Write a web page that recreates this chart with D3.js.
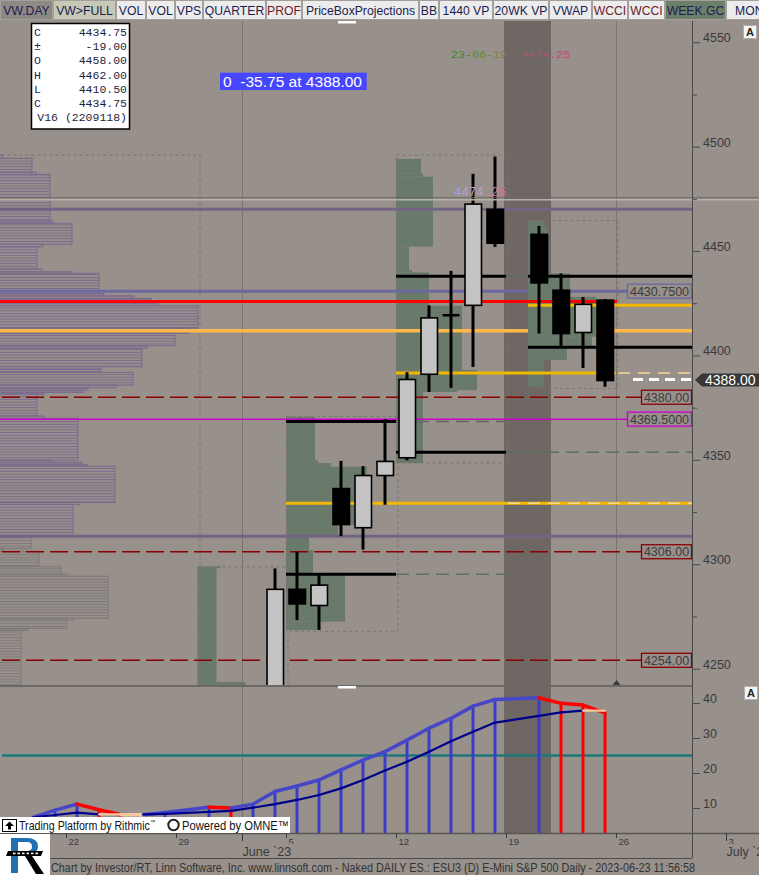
<!DOCTYPE html>
<html><head><meta charset="utf-8">
<script src="https://cdn.jsdelivr.net/npm/d3@7/dist/d3.min.js"></script>
<style>
html,body{margin:0;padding:0;background:#97908b;overflow:hidden}
svg{display:block;font-family:"Liberation Sans",Arial,sans-serif}
</style></head><body>
<svg id="chart" width="759" height="875"></svg>
<script>
// ================= DATA =================
const toolbarButtons = ["VW.DAY","VW>FULL","VOL","VOL","VPS","QUARTER","PROF","PriceBoxProjections","BB","1440 VP","20WK VP","VWAP","WCCI","WCCI","WEEK.GC","MONT"];

const candleDates = ["2023-06-02","2023-06-05","2023-06-06","2023-06-07","2023-06-08","2023-06-09","2023-06-12","2023-06-13","2023-06-14","2023-06-15","2023-06-16","2023-06-20","2023-06-21","2023-06-22","2023-06-23"];
const opens  = [4226,4288,4280.25,4336.25,4317.5,4342.5,4351,4391,4419.25,4424,4470,4458,4431.25,4411,4426.5];
const highs  = [4298,4306,4295,4349.5,4347,4369.5,4392,4424,4440.5,4487,4495.25,4462,4439.25,4428,4427];
const lows   = [4218,4273.25,4268.5,4313.5,4307,4328.5,4349.75,4382.5,4384.5,4394.5,4452,4410.5,4404,4394,4385];
const closes = [4288,4281,4290,4319,4342.5,4349.25,4388.5,4418,4419.25,4472.5,4453.75,4434.75,4410.5,4424.5,4388];

const priceTicks = [4250,4300,4350,4400,4450,4500,4550];
const priceMinorTicks = [4275,4325,4375,4425,4475,4525];

const ohlcLabels = ["C","±","O","H","L","C"];
const ohlcValues = ["4434.75","-19.00","4458.00","4462.00","4410.50","4434.75"];
const ohlcVolume = "V16 (2209118)";
const measureText = "0  -35.75 at 4388.00";
const highNote = "23-06-19  4474.25";
const highNoteShort = "4474.25";

// volume profiles: [price top, price bottom, volume]
const profileLeftUpper = [
 [4496.0,4494.4,4],[4494.4,4487.7,33],[4487.7,4486.7,37],[4486.7,4464.4,51],[4464.4,4463.3,54],
 [4463.3,4453.2,73],[4453.2,4452.1,44],[4452.1,4441.4,38],[4441.4,4440.1,43],[4440.1,4439.3,73],
 [4439.3,4429.7,100],[4429.7,4428.6,105],[4428.6,4427.3,135],[4427.3,4425.0,152],[4425.0,4423.8,159],
 [4423.8,4413.0,199],[4413.0,4410.6,190],[4410.6,4404.6,176],[4404.6,4403.4,148],[4403.4,4394.6,143],
 [4394.6,4393.3,102],[4393.3,4391.9,101],[4391.9,4385.8,134],[4385.8,4384.5,117],[4384.5,4383.4,89],
 [4383.4,4382.3,85],[4382.3,4381.4,45],[4381.4,4371.0,38],[4371.0,4369.9,45],[4369.9,4349.9,79],
 [4349.9,4348.9,52],[4348.9,4347.8,83],[4347.8,4347.0,88],[4347.0,4329.6,116],[4329.6,4328.7,81],
 [4328.7,4313.4,74]
];
const profileLeftLower = [
 [4313.4,4307.6,32],[4307.6,4306.3,5],[4306.3,4298.8,40],[4298.8,4295.3,62],[4295.3,4294.3,69],
 [4294.3,4274.1,109],[4274.1,4273.3,74],[4273.3,4269.3,68],[4269.3,4268.2,29],[4268.2,4235.0,22]
];
const profileMay30 = [[4299.0,4298.2,23],[4298.2,4243.6,19],[4243.6,4235.0,48]];
const profileJun05 = [
 [4370.6,4349.9,29],[4349.9,4348.5,32],[4348.5,4346.7,45],[4346.7,4318.8,81],[4318.8,4313.2,52],
 [4313.2,4306.8,23],[4306.8,4295.6,27],[4295.6,4272.5,59],[4272.5,4268.5,32]
];
const profileJun12 = [
 [4494.1,4487.2,25],[4487.2,4485.6,27],[4485.6,4452.1,37],[4452.1,4440.9,13],[4440.9,4439.8,16],
 [4439.8,4423.8,33],[4423.8,4393.0,66],[4393.0,4383.4,81],[4383.4,4382.5,61],[4382.5,4348.5,27]
];
const profileJun20 = [
 [4464.4,4462.0,17],[4462.0,4439.3,20],[4439.3,4428.1,42],[4428.1,4409.0,68],[4409.0,4404.2,64],
 [4404.2,4397.8,39],[4397.8,4385.0,16]
];
// profile boxes: [start day, end day, price top, price bottom]
const profileBoxes = [
 ["2023-05-15","2023-05-30",4496.0,4235.0],
 ["2023-05-30","2023-06-05",4298.7,4235.0],
 ["2023-06-05","2023-06-12",4370.8,4267.9],
 ["2023-06-12","2023-06-19",4496.0,4348.5],
 ["2023-06-20","2023-06-26",4464.6,4384.2]
];

// levels
const sessionHighLevel = 4475.0;
const purpleLevels = [4470.0, 4313.4];
const blueLevel = 4430.75;
const orangeLevel = 4411.8;
const redLevel = 4425.9;
const magentaLevel = 4369.5;
const dashedRedLevels = [4380.00, 4306.00, 4254.00];
// [price, start day, solid end ("edge" = plot edge), dashed end or null]
const rangeLevels = [
 [4437.9,"2023-06-12","2023-06-19","2023-06-20"],
 [4437.9,"2023-06-20","edge",null],
 [4403.9,"2023-06-20","edge",null],
 [4353.6,"2023-06-12","2023-06-19","edge"],
 [4368.4,"2023-06-05","2023-06-12","2023-06-19"],
 [4295.2,"2023-06-05","2023-06-12","2023-06-19"]
];
// [price, start day, solid end, light-dash start or null]
const goldLevels = [
 [4329.2,"2023-06-05","edge","2023-06-19"],
 [4391.6,"2023-06-12","2023-06-26","2023-06-26"],
 [4424.1,"2023-06-20","edge",null]
];
const holidayBand = ["2023-06-19","2023-06-20"];
const monthStarts = [["2023-06-01","June `23"],["2023-07-03","July `23"]];
const currentWeek = "2023-06-26";

// lower indicator
const indDates = ["2023-05-18","2023-05-19","2023-05-22","2023-05-23","2023-05-24","2023-05-25","2023-05-26","2023-05-30","2023-05-31","2023-06-01","2023-06-02","2023-06-05","2023-06-06","2023-06-07","2023-06-08","2023-06-09","2023-06-12","2023-06-13","2023-06-14","2023-06-15","2023-06-16","2023-06-20","2023-06-21","2023-06-22","2023-06-23"];
const indFast = [7.3,9.4,11.1,9.5,8.1,8.1,8.7,10.2,10.0,11.1,14.7,16.3,18.0,20.9,23.7,26.1,29.4,32.8,35.6,39.1,41.0,41.5,39.9,39.4,37.2];
const indSlow = [7.3,8.0,8.7,8.2,8.2,8.2,8.3,8.9,9.2,10.1,11.1,12.3,13.7,15.6,18.0,20.7,23.2,26.1,29.1,31.8,34.4,36.3,37.3,37.8,37.8];
const indLevel = 25;
const indTicks = [10,20,30,40];

const footerText = "Chart by Investor/RT, Linn Software, Inc. www.linnsoft.com - Naked DAILY ES.: ESU3 (D) E-Mini S&P 500 Daily - 2023-06-23 11:56:58";

// ================= LAYOUT =================
const BG = "#97908b";
const PLOT_R = 692, P_TOP = 21, P_BOT = 686, L_BOT = 833;
const fmt = d3.timeFormat("%Y-%m-%d");
const weekdays = d3.timeDay.range(new Date(2023,4,15), new Date(2023,6,8))
  .filter(d => d.getDay() !== 0 && d.getDay() !== 6).map(fmt);
const x = d3.scaleBand().domain(weekdays).range([-44, -44 + 22*weekdays.length]);
const xL = d => d === "edge" ? PLOT_R : x(d);
const xC = d => x(d) + x.bandwidth()/2;
const y = d3.scaleLinear().domain([4241.7, 4559.7]).range([686, 22]);
const y2 = d3.scaleLinear().domain([0, 40]).range([843, 703]);
const vx = d3.scaleLinear().domain([0, 100]).range([0, 100]);

const svg = d3.select("#chart");
const defs = svg.append("defs");
defs.append("clipPath").attr("id","cp").append("rect").attr("x",0).attr("y",P_TOP).attr("width",PLOT_R).attr("height",P_BOT-P_TOP);
defs.append("clipPath").attr("id","cl").append("rect").attr("x",0).attr("y",P_BOT+1).attr("width",PLOT_R).attr("height",L_BOT-P_BOT-1);
function stripe(id, col){
  const p = defs.append("pattern").attr("id",id).attr("patternUnits","userSpaceOnUse").attr("width",8).attr("height",2.77);
  p.append("rect").attr("width",8).attr("height",2.77).attr("fill",BG);
  p.append("rect").attr("width",8).attr("height",1).attr("fill",col);
}
stripe("stP","#7a6a8e");
stripe("stG","#7f7a7a");
function grad(id, stops){
  const g = defs.append("linearGradient").attr("id",id).attr("x1","0").attr("x2","1").attr("y1","0").attr("y2","0");
  stops.forEach((c,i)=>g.append("stop").attr("offset",(i/(stops.length-1)*100)+"%").attr("stop-color",c));
}
grad("gNote",["#2f8a2a","#6a8a3a","#a05a6a","#d0407a"]);
grad("gNote2",["#a7a0e0","#c0a0c8","#e06080"]);

svg.append("rect").attr("width",759).attr("height",875).attr("fill",BG);

// ---------- toolbar ----------
const btnEdges = [0,53,116,146,175,203,266,302,419,439,493,549,592,628,665,726,780];
const tb = svg.append("g");
tb.append("rect").attr("width",759).attr("height",20).attr("fill","#c9c5c0");
toolbarButtons.forEach((t,i)=>{
  const x0 = btnEdges[i], w = btnEdges[i+1]-btnEdges[i]-1;
  const fill = i===0 ? "#8e8984" : i===1 ? "#c6c9b6" : t==="WEEK.GC" ? "#6b7f6a" : "#ececec";
  const col = (t==="PROF"||t==="WCCI") ? "#6b1a2e" : "#1c1c50";
  tb.append("rect").attr("x",x0+0.5).attr("y",0.5).attr("width",w).attr("height",19).attr("fill",fill).attr("stroke","#a3a09c");
  tb.append("text").attr("x",x0+w/2+0.5).attr("y",15).attr("text-anchor","middle").attr("font-size",12.2).attr("fill",col).text(t);
});

// ---------- price panel ----------
// holiday band across both panels
svg.append("rect").attr("x",x(holidayBand[0])-2).attr("y",P_TOP).attr("width",x(holidayBand[1])+x.bandwidth()+3-x(holidayBand[0])).attr("height",L_BOT-P_TOP).attr("fill","#6f6764");
// month start line spans both panels; current-week line only the price panel
const mx = x(monthStarts[0][0])+0.5;
svg.append("line").attr("x1",mx).attr("x2",mx).attr("y1",P_TOP).attr("y2",L_BOT).attr("stroke","#7b7570");
const cwx = x(currentWeek)+0.5;
svg.append("line").attr("x1",cwx).attr("x2",cwx).attr("y1",P_TOP).attr("y2",P_BOT).attr("stroke","#7b7570");

const pp = svg.append("g").attr("clip-path","url(#cp)");
function drawProfile(g, rows, x0, fill, stroke){
  g.append("g").selectAll("rect").data(rows).join("rect")
   .attr("x",x0).attr("y",r=>y(r[0])).attr("width",r=>vx(r[2])).attr("height",r=>y(r[1])-y(r[0]))
   .attr("fill",fill).attr("stroke",stroke||"none").attr("stroke-width",1);
}
const GREEN = "#6a7a6a";
drawProfile(pp, profileLeftUpper, -1, "url(#stP)", "#7a6a8e");
drawProfile(pp, profileLeftLower, -1, "url(#stG)", "#7f7a7a");
drawProfile(pp, profileMay30, x("2023-05-30")-0.5, GREEN);
drawProfile(pp, profileJun05, x("2023-06-05"), GREEN);
drawProfile(pp, profileJun12, x("2023-06-12"), GREEN);

// dotted boxes
profileBoxes.forEach((b,i)=>{
  const x0 = i===0 ? -5 : x(b[0]), x1 = x(b[1])+1.5;
  pp.append("rect").attr("x",x0+0.5).attr("y",y(b[2])).attr("width",x1-x0).attr("height",y(b[3])-y(b[2]))
   .attr("fill","none").attr("stroke","#7a7570").attr("stroke-width",1).attr("stroke-dasharray","3,3");
});

function hline(g, p, x0, x1, col, w, dash){
  const l = g.append("line").attr("x1",x0).attr("x2",x1).attr("y1",y(p)).attr("y2",y(p)).attr("stroke",col).attr("stroke-width",w);
  if (dash) l.attr("stroke-dasharray",dash);
  return l;
}
// session high lines
svg.append("line").attr("x1",0).attr("x2",759).attr("y1",y(sessionHighLevel)-1.2).attr("y2",y(sessionHighLevel)-1.2).attr("stroke","#6e6a66").attr("stroke-width",1);
svg.append("line").attr("x1",0).attr("x2",759).attr("y1",y(sessionHighLevel)+0.8).attr("y2",y(sessionHighLevel)+0.8).attr("stroke","#b3afab").attr("stroke-width",1.5);

purpleLevels.forEach(p=>hline(pp,p,0,PLOT_R,"#736487",3));
hline(pp, blueLevel, 0, 627, "#6c68a0", 3);
hline(pp, orangeLevel, 0, PLOT_R, "#ffb84a", 3.5);
drawProfile(pp, profileJun20, x("2023-06-20"), GREEN);
hline(pp, redLevel, 0, x("2023-06-26")+1, "#ff0000", 3);
dashedRedLevels.forEach(p=>hline(pp,p,2,641,"#8b0000",1.5,"18,6"));
hline(pp, magentaLevel, 0, 627, "#cc00cc", 1.5);

goldLevels.forEach(l=>{
  hline(pp, l[0], xL(l[1]), xL(l[2]), "#f2b800", 3);
  if (l[3]) hline(pp, l[0], xL(l[3])+2, PLOT_R, "#f8d898", 1.5, "12,8");
});
rangeLevels.forEach(l=>{
  const xs = xL(l[1]), xe = xL(l[2]);
  hline(pp, l[0], xs, xe, "#000", 3);
  if (l[3]) hline(pp, l[0], xe, xL(l[3]), "#5d6e5d", 1.5, "13,7");
});

// candles
const candles = candleDates.map((d,i)=>({d, o:opens[i], h:highs[i], l:lows[i], c:closes[i]}));
const cg = pp.append("g");
candles.forEach(c=>{
  const cx = xC(c.d);
  cg.append("line").attr("x1",cx).attr("x2",cx).attr("y1",y(c.h)).attr("y2",y(c.l)).attr("stroke","#000").attr("stroke-width",3);
  const top = y(Math.max(c.o,c.c)), bot = y(Math.min(c.o,c.c));
  if (bot - top < 1.5) {
    cg.append("line").attr("x1",cx-8.5).attr("x2",cx+8.5).attr("y1",top).attr("y2",top).attr("stroke","#000").attr("stroke-width",2.5);
  } else {
    cg.append("rect").attr("x",cx-8).attr("y",top).attr("width",16.5).attr("height",bot-top)
      .attr("fill", c.c >= c.o ? "#c3c3c3" : "#000").attr("stroke","#000").attr("stroke-width",1.6);
  }
});
// current price dashes
const last = closes[closes.length-1];
hline(pp, last, 633, PLOT_R, "#ffffff", 3, "10,6").attr("transform","translate(0,-1)");

// annotations
svg.append("text").attr("x",xC("2023-06-15")+7).attr("y",y(4474.25)-4.5).attr("text-anchor","middle")
  .attr("font-family","Liberation Mono, monospace").attr("font-size",12.5).attr("fill","url(#gNote2)").text(highNoteShort);
svg.append("text").attr("x",451).attr("y",57.5).attr("font-family","Liberation Mono, monospace").attr("font-size",11.7)
  .attr("fill","url(#gNote)").style("white-space","pre").text(highNote);
svg.append("rect").attr("x",220).attr("y",72.7).attr("width",146.7).attr("height",17.3).attr("fill","#4646ff");
svg.append("text").attr("x",223).attr("y",87).attr("font-size",14.5).attr("fill","#fff").style("white-space","pre")
  .attr("textLength",139).attr("lengthAdjust","spacingAndGlyphs").text(measureText);

// OHLC box
const ob = svg.append("g");
ob.append("rect").attr("x",31.5).attr("y",23.5).attr("width",98).attr("height",105.5).attr("fill","#fff").attr("stroke","#000").attr("stroke-width",1.5);
ohlcLabels.forEach((t,i)=>{
  const by = 36 + i*14.2;
  ob.append("text").attr("x",34).attr("y",by).attr("font-family","Liberation Mono, monospace").attr("font-size",11.5).attr("fill","#1e2060").text(t);
  ob.append("text").attr("x",127).attr("y",by).attr("text-anchor","end").attr("font-family","Liberation Mono, monospace").attr("font-size",11.5).attr("fill","#1e1e40").text(ohlcValues[i]);
});
ob.append("text").attr("x",127).attr("y",36+6*14.2).attr("text-anchor","end").attr("font-family","Liberation Mono, monospace").attr("font-size",11.5).attr("fill","#1e1e40").text(ohlcVolume);

// price tags
function tag(p, txt, col, x0){
  const yy = y(p);
  svg.append("rect").attr("x",x0+0.5).attr("y",yy-7).attr("width",PLOT_R-x0-1).attr("height",14).attr("fill",BG).attr("stroke",col).attr("stroke-width",1.3);
  svg.append("text").attr("x",(x0+PLOT_R)/2).attr("y",yy+4.6).attr("text-anchor","middle").attr("font-size",12.5).attr("fill","#3c3c3c").text(txt);
}
tag(blueLevel, d3.format(".4f")(blueLevel), "#6c68a0", 627);
tag(magentaLevel, d3.format(".4f")(magentaLevel), "#cc00cc", 627);
dashedRedLevels.forEach(p=>tag(p, d3.format(".2f")(p), "#8b0000", 641));

// panel dividers
svg.append("line").attr("x1",0).attr("x2",PLOT_R).attr("y1",P_BOT).attr("y2",P_BOT).attr("stroke","#6c6864").attr("stroke-width",2);
svg.append("rect").attr("x",338).attr("y",P_TOP).attr("width",18).attr("height",2.5).attr("fill","#fff");
svg.append("rect").attr("x",338).attr("y",P_BOT).attr("width",18).attr("height",2.5).attr("fill","#fff");
svg.append("path").attr("d",`M${cwx-4},${P_BOT-1}L${cwx+4},${P_BOT-1}L${cwx},${P_BOT-6}Z`).attr("fill","#3a3a3a");

// ---------- right axis ----------
const axG = svg.append("g").attr("transform",`translate(${PLOT_R},0)`);
axG.append("line").attr("x1",0.5).attr("x2",0.5).attr("y1",P_TOP).attr("y2",858).attr("stroke","#4a4a4a");
const ax1 = axG.append("g").call(d3.axisRight(y).tickValues(priceTicks).tickSize(8).tickPadding(3).tickFormat(d3.format("d")));
const ax1m = axG.append("g").call(d3.axisRight(y).tickValues(priceMinorTicks).tickSize(5).tickFormat(""));
const ax2 = axG.append("g").call(d3.axisRight(y2).tickValues(indTicks).tickSize(8).tickPadding(3).tickFormat(d3.format("d")));
[ax1,ax1m,ax2].forEach(a=>{
  a.select(".domain").remove();
  a.selectAll("line").attr("stroke","#4a4a4a");
  a.selectAll("text").attr("dy","-0.05em").attr("font-size",12.5).attr("fill","#3a3a3a").attr("font-family","Liberation Sans, Arial, sans-serif");
});
// current price marker
const ly = y(last);
svg.append("path").attr("d",`M695,${ly-0.5}L702,${ly-7}L759,${ly-7}L759,${ly+6}L702,${ly+6}Z`).attr("fill","#383838");
svg.append("text").attr("x",705).attr("y",ly+4.8).attr("font-size",14).attr("fill","#fff").text(d3.format(".2f")(last));
// A buttons
[[743,25],[744,686]].forEach(([ax,ay])=>{
  svg.append("rect").attr("x",ax+0.5).attr("y",ay+0.5).attr("width",13).attr("height",13).attr("fill","#f4f4f4").attr("stroke","#b0b0b0");
  svg.append("text").attr("x",ax+7).attr("y",ay+11).attr("text-anchor","middle").attr("font-size",11).attr("font-weight","bold").attr("fill","#222").text("A");
});

// ---------- lower panel ----------
const lp = svg.append("g").attr("clip-path","url(#cl)");
lp.append("line").attr("x1",2).attr("x2",PLOT_R).attr("y1",y2(indLevel)).attr("y2",y2(indLevel)).attr("stroke","#187a7a").attr("stroke-width",2.5);
const BLUE = "#3c3cc8", RED = "#ff0000", PEACH = "#f6c8a0";
const dir = (a,b) => b > a + 0.05 ? BLUE : b < a - 0.05 ? RED : PEACH;
indDates.forEach((d,i)=>{
  const col = i===0 ? BLUE : dir(indFast[i-1], indFast[i]);
  lp.append("line").attr("x1",xC(d)).attr("x2",xC(d)).attr("y1",y2(indFast[i])).attr("y2",L_BOT).attr("stroke",col).attr("stroke-width",3);
});
for (let i=1;i<indDates.length;i++){
  const c = dir(indFast[i-1],indFast[i]);
  lp.append("line").attr("x1",xC(indDates[i-1])).attr("x2",xC(indDates[i])).attr("y1",y2(indFast[i-1])).attr("y2",y2(indFast[i]))
    .attr("stroke",c===BLUE ? "#4646c8" : c).attr("stroke-width",3.5).attr("stroke-linecap","round");
}
for (let i=1;i<indDates.length;i++){
  const c = dir(indSlow[i-1],indSlow[i]) === PEACH ? PEACH : "#00008c";
  lp.append("line").attr("x1",xC(indDates[i-1])).attr("x2",xC(indDates[i])).attr("y1",y2(indSlow[i-1])).attr("y2",y2(indSlow[i]))
    .attr("stroke",c).attr("stroke-width",2.2).attr("stroke-linecap","round");
}

// ---------- x axis ----------
svg.append("line").attr("x1",0).attr("x2",759).attr("y1",L_BOT+0.5).attr("y2",L_BOT+0.5).attr("stroke","#5a5652").attr("stroke-width",1.5);
svg.append("line").attr("x1",0).attr("x2",PLOT_R).attr("y1",858.5).attr("y2",858.5).attr("stroke","#4a4a4a");
const mondays = weekdays.filter(d => new Date(d+"T12:00:00").getDay()===1 && x(d) > 0 && x(d) < 759);
mondays.forEach(d=>{
  const xx = x(d)+0.5;
  svg.append("line").attr("x1",xx).attr("x2",xx).attr("y1",L_BOT).attr("y2",L_BOT+5).attr("stroke","#3a3a3a");
  svg.append("text").attr("x",xx+2).attr("y",845).attr("font-size",9.5).attr("fill","#3a3a3a").text(+d.slice(8));
});
monthStarts.forEach(([d,t])=>{
  const xx = x(d)+0.5;
  svg.append("rect").attr("x",xx+0.5).attr("y",844).attr("width",54).attr("height",13.5).attr("fill",BG);
  svg.append("line").attr("x1",xx).attr("x2",xx).attr("y1",L_BOT).attr("y2",L_BOT+8).attr("stroke","#3a3a3a");
  svg.append("text").attr("x",xx).attr("y",855.5).attr("font-size",12.5).attr("fill","#3a3a3a").text(t);
});

// banner
const bn = svg.append("g");
bn.append("rect").attr("x",0).attr("y",817).attr("width",290).attr("height",16).attr("fill","#fff");
bn.append("rect").attr("x",2.5).attr("y",819.5).attr("width",14).attr("height",12).attr("fill","#fff").attr("stroke","#000");
bn.append("path").attr("d","M9.5,821.5L14,826L11,826L11,829.5L8,829.5L8,826L5,826Z").attr("fill","#000");
bn.append("text").attr("x",19).attr("y",830).attr("font-size",12.5).attr("fill","#111").attr("textLength",136).attr("lengthAdjust","spacingAndGlyphs")
  .text("Trading Platform by Rithmic").append("tspan").attr("font-size",6).attr("dy",-6).text("™");
bn.append("circle").attr("cx",173.5).attr("cy",825).attr("r",5.2).attr("fill","none").attr("stroke","#222").attr("stroke-width",2);
bn.append("text").attr("x",182).attr("y",830).attr("font-size",12.5).attr("fill","#111").attr("textLength",107).attr("lengthAdjust","spacingAndGlyphs").text("Powered by OMNE™");

// logo (graphic mark)
const lg = svg.append("g");
lg.append("rect").attr("x",0).attr("y",834).attr("width",50).attr("height",41).attr("fill","#fff");
lg.append("path").attr("d","M11,838L27,838Q38,838 38,846.5Q38,853 30,855L12,855L12,873L11,873Z M17,842L17,851L27,851Q32,851 32,846.5Q32,842 27,842Z")
  .attr("fill","#1f6fb2").attr("fill-rule","evenodd");
lg.append("path").attr("d","M11,838L18,838L18,873L11,873Z").attr("fill","#1f6fb2");
lg.append("path").attr("d","M25,856L32,856L44,874L36,874Z").attr("fill","#000");
lg.append("path").attr("d","M8,851L43,851L41,856L6,856Z").attr("fill","#000");
d3.range(6).forEach(k=>lg.append("rect").attr("x",13+k*4.5).attr("y",852.6).attr("width",2.5).attr("height",1.6).attr("fill","#fff"));

// footer
svg.append("text").attr("x",51).attr("y",872).attr("font-size",12).attr("fill","#333").attr("textLength",644).attr("lengthAdjust","spacingAndGlyphs").text(footerText);
</script></body></html>
